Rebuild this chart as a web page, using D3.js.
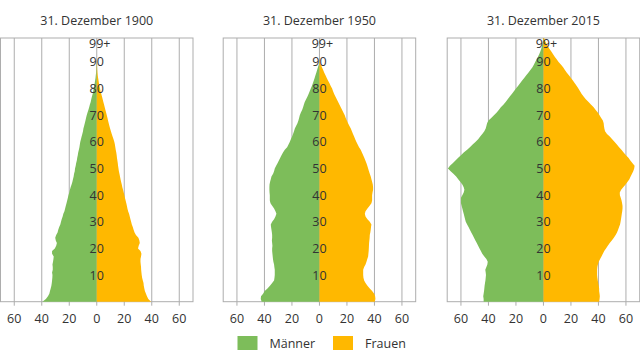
<!DOCTYPE html>
<html><head><meta charset="utf-8">
<script src="https://cdn.jsdelivr.net/npm/d3@7"></script>
<style>
html,body{margin:0;padding:0;background:#fff;}
svg{display:block;font-family:"Open Sans",sans-serif;}
</style></head><body>
<svg id="chart" width="640" height="360"></svg>
<script>
// ---- Data (thousands of persons per year of age, ages 0..99+) ----
const titles = ["31. Dezember 1900", "31. Dezember 1950", "31. Dezember 2015"];
const seriesNames = ["Männer", "Frauen"];
const xTicks = [-60, -40, -20, 0, 20, 40, 60];
const ageTicks = [10, 20, 30, 40, 50, 60, 70, 80, 90];
const topAgeLabel = "99+";

const men1900 = [39.5,37,35.5,34.5,34,33.5,33,32.7,32.5,32.3,32.2,32.5,32,32,32.2,31.8,31.5,31.3,32.5,32.5,
30.5,29.5,29,29.8,30.2,29.5,28.5,28,27.3,26.5,26,25.5,24.8,24.3,23.5,23,22.5,22,21.5,21,
20.6,20,19.5,19,18.3,17.7,17.3,16.8,16.5,16,15.8,15.3,15,14.5,14.2,13.8,13.5,13,12.6,12.3,
12,11.5,11,10.5,10,9.7,9.2,8.7,8.2,7.8,7.3,6.7,6.1,5.5,5,4.4,4,3.5,3,2.6,
2.2,1.8,1.5,1.2,0.9,0.7,0.5,0.35,0.25,0.15,0.1,0,0,0,0,0,0,0,0,0];
const women1900 = [39.5,37.5,36.5,35.8,35,34.6,34.2,34,33.5,33,32.7,32.5,32.3,32.2,32,31.8,31.8,32.2,32.5,31.8,
30,30.5,31.3,31,30.3,28.5,27.5,26.8,26.2,25.5,25,24.5,24,23.5,22.8,22.3,21.9,21.5,21,20.5,
20.1,19.6,19.1,18.6,18.2,17.7,17.3,16.9,16.5,16.1,15.8,15.5,15.3,15,14.7,14.5,14.2,13.8,13.5,13.2,
12.8,12.2,11.5,10.9,10.3,9.7,9.2,8.7,8.2,7.8,7.3,6.8,6.3,5.8,5.3,4.8,4.3,3.8,3.3,2.8,
2.4,2,1.6,1.3,1,0.7,0.5,0.35,0.25,0.15,0.1,0,0,0,0,0,0,0,0,0];
const men1950 = [42,42.7,42.5,41,39.8,37.8,36,34.4,33,32.7,32.5,32.5,32.5,32.8,33,33.5,33.8,34,34.2,34.4,
34.4,34.2,34.4,34.6,34.4,34.4,34.6,34.9,35.2,35.4,34.4,33,32,31.3,32,33,34.4,35.6,36.1,36.1,
36.1,36.3,36.4,36.4,36.3,35.9,35.4,34.9,33.7,33,32.5,31.5,30.5,29.5,28.5,27.6,26.5,25.2,23.5,22.5,
21.6,20.8,19.9,19.2,18.5,17.9,17,16,15.3,14.8,14.3,13.5,12.6,11.9,11.3,10.7,9.7,8.7,7.9,7.1,
6.3,5.5,4.8,4.1,3.5,2.9,2.3,1.7,1.1,0.5,0.2,0,0,0,0,0,0,0,0,0];
const women1950 = [40.2,40.7,40.5,39.8,38.3,36.6,34.9,33.5,32.5,32,31.8,31.8,31.8,32.5,33.5,34.2,34.8,35.4,35.6,35.8,
35.9,36,36.1,36.3,36.5,36.6,37,37.3,37.5,37.8,36.6,34.9,33.5,33,33.5,34.9,36.5,37.8,38.3,38.3,
38.3,38.6,39,39,38.8,38.3,37.8,37.3,36.6,36,35.4,34.8,34.2,33.4,32.6,31.8,30.9,30,28.8,27.8,
26.9,26,25.2,24.4,23.6,22.8,21.8,20.8,19.9,19.1,18.4,17.4,16.5,15.5,14.5,13.6,12.6,11.6,10.7,9.9,
9.2,8.2,7.3,6.2,5.3,4.4,3.5,2.7,1.8,1,0.4,0.1,0,0,0,0,0,0,0,0];
const men2015 = [43.5,43.5,43.8,43.5,43.2,43,42.8,42.5,42.2,42,41.8,42,42.3,41.5,40.8,40.5,41.5,43,44.5,45.5,
46.5,47.5,48.5,49.5,50.5,51.5,52.5,53.5,54.5,55.5,56.5,57,57.5,58,58.5,59,59.5,60,60,60,
59,58,57.5,58,59,60.5,62,63.5,65.5,67.5,69.5,68,66,64,62,60,58,55.5,53.5,51.5,
49.5,47.5,46,44.5,43,42,41.5,41,40,38,36,34,32.5,31,29,27.5,26,24.5,23,21.5,
20,18.5,17,15.5,14,12.5,11,9.5,8,7,6,5,4,3,2.2,1.6,1.1,0.7,0.4,0.3];
const women2015 = [40.5,40.8,41,40.8,40.5,40.5,40.2,39.8,39.5,39.2,39,39,39,39.2,39.6,40.2,41.2,42.2,43.2,44.2,
45.5,46.8,48.2,49.7,51.2,52.5,53.5,54.3,55,55.7,56.1,56.4,56.7,57,57.3,57.5,57.5,57.2,56.8,56.2,
55.6,55.5,56.5,58,59.7,61.2,62.5,63.4,64.4,65.3,66,66.3,64.8,63.2,61.8,60,58.3,56.7,55,53.4,
51.8,50,48.2,46.2,44.8,44.3,44,43.8,43.2,42,40.8,39.5,38,36.5,34.5,32.8,30.8,29.2,27.8,26.6,
25.4,24.2,22.8,21.4,20,18.5,17,15.6,14.3,12.8,11,9.6,8.2,6.9,5.6,4.3,3.2,2,1.2,0.5];

const menSeries = [men1900, men1950, men2015];
const womenSeries = [women1900, women1950, women2015];

// ---- Styles ----
const colMen = "#7dbd5a", colWomen = "#ffb800", gridCol = "#adadad", textCol = "#333";

const svg = d3.select("#chart");
const plotTop = 38, plotBottom = 301.7, panelW = 192.5;
const panelLeft = [0.5, 223.2, 447.2];

const y = d3.scaleLinear().domain([0, 99]).range([plotBottom, plotTop]);

titles.forEach((title, i) => {
  const x = d3.scaleLinear().domain([-70, 70]).range([panelLeft[i], panelLeft[i] + panelW]);
  const g = svg.append("g");

  // frame
  g.append("rect").attr("x", x(-70)).attr("y", plotTop).attr("width", x(70) - x(-70)).attr("height", plotBottom - plotTop)
    .attr("fill", "none").attr("stroke", gridCol).attr("stroke-width", 1);

  // grid lines + tick marks
  g.selectAll("line.grid").data(xTicks).join("line").attr("class", "grid")
    .attr("x1", d => x(d)).attr("x2", d => x(d)).attr("y1", plotTop).attr("y2", plotBottom + 4)
    .attr("stroke", gridCol).attr("stroke-width", 1);

  // areas
  const ages = d3.range(menSeries[i].length);
  const areaMen = d3.area().y(a => y(a)).x0(x(0)).x1(a => x(-menSeries[i][a]));
  const areaWomen = d3.area().y(a => y(a)).x0(x(0)).x1(a => x(womenSeries[i][a]));
  g.append("path").datum(ages).attr("d", areaMen).attr("fill", colMen);
  g.append("path").datum(ages).attr("d", areaWomen).attr("fill", colWomen);

  // title
  g.append("text").attr("x", x(0)).attr("y", 20).attr("text-anchor", "middle").attr("dominant-baseline", "central")
    .attr("font-size", 12.5).attr("fill", textCol).text(title);

  // x tick labels
  g.selectAll("text.xt").data(xTicks).join("text").attr("class", "xt")
    .attr("x", d => x(d)).attr("y", 318.5).attr("text-anchor", "middle").attr("dominant-baseline", "central")
    .attr("font-size", 12.5).attr("fill", textCol).text(d => Math.abs(d));

  // age labels
  g.selectAll("text.age").data(ageTicks).join("text").attr("class", "age")
    .attr("x", x(0)).attr("y", d => y(d)).attr("text-anchor", "middle").attr("dominant-baseline", "central")
    .attr("font-size", 12.5).attr("fill", textCol).text(d => d);
  g.append("text").attr("x", x(0) + 3).attr("y", y(99) + 5).attr("text-anchor", "middle").attr("dominant-baseline", "central")
    .attr("font-size", 12.5).attr("fill", textCol).text(topAgeLabel);
});

// legend
const legend = svg.append("g");
const legendItems = [{name: seriesNames[0], color: colMen, x: 237.5}, {name: seriesNames[1], color: colWomen, x: 333}];
legendItems.forEach(it => {
  legend.append("rect").attr("x", it.x).attr("y", 336).attr("width", 20).attr("height", 14).attr("fill", it.color);
  legend.append("text").attr("x", it.x + 32).attr("y", 343).attr("dominant-baseline", "central")
    .attr("font-size", 12.5).attr("fill", textCol).text(it.name);
});
</script>
</body></html>
